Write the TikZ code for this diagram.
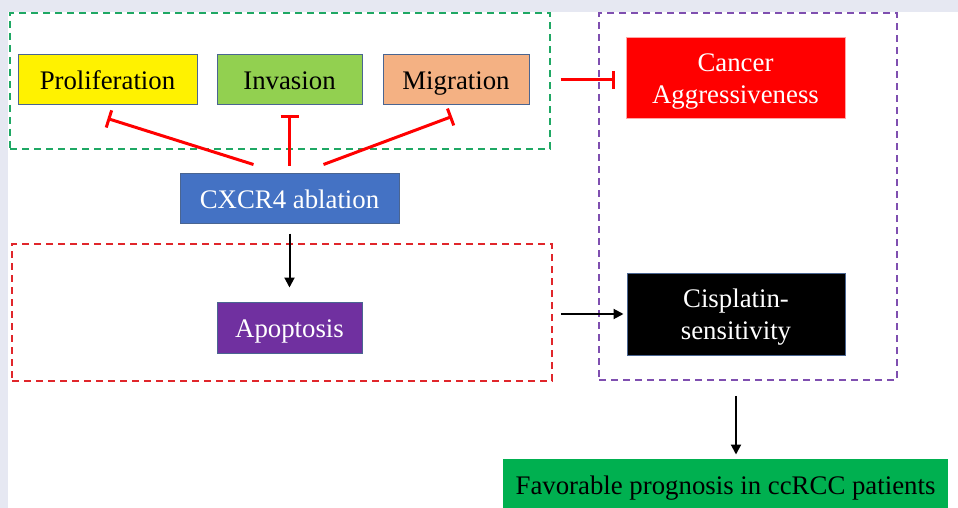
\documentclass[tikz,border=0pt]{standalone}
\usepackage{fontspec}
\setmainfont{Liberation Serif}
\usetikzlibrary{arrows.meta}

\definecolor{pagegray}{HTML}{E6E8F2}
\definecolor{boxedge}{HTML}{4A6591}
\definecolor{invgreen}{HTML}{92D050}
\definecolor{migorange}{HTML}{F4B183}
\definecolor{cxblue}{HTML}{4472C4}
\definecolor{apopurple}{HTML}{7030A0}
\definecolor{progreen}{HTML}{00B050}
\definecolor{grpgreen}{HTML}{1FA864}
\definecolor{grpred}{HTML}{E0262B}
\definecolor{grppurple}{HTML}{7F4FB0}

\tikzset{
  box/.style={draw=boxedge, line width=0.5pt, inner sep=0pt, align=center,
    text depth=2.2pt, font=\fontsize{13.4}{16}\selectfont},
  oneline/.style={text height=12.2pt},
  twoline/.style={text height=27.7pt},
  group/.style={line width=0.8pt, dash pattern=on 3.5pt off 2.5pt, inner sep=0pt},
  inhibit/.style={draw=red, line width=1.5pt, -{Bar[width=9pt]}},
  arr/.style={line width=1pt, -{Triangle[length=5pt,width=5pt]}}
}

\begin{document}
\begin{tikzpicture}[x=0.5pt,y=-0.5pt]
    % page
    \fill[pagegray] (0,0) rectangle (958,508);
    \fill[white] (8,12) rectangle (958,508);
    \useasboundingbox (0,0) rectangle (958,508);

    % dashed groups
    \node[group, draw=grpgreen, minimum width=270pt, minimum height=68pt] (traits) at (280,81) {};
    \node[group, draw=grppurple, minimum width=149pt, minimum height=183.5pt] (outcome) at (748,196.5) {};
    \node[group, draw=grpred, minimum width=270pt, minimum height=68.5pt] (death) at (282,312.5) {};

    % boxes
    \node[box, oneline, fill=yellow, minimum width=89.5pt, minimum height=25pt] (prolif) at (107.5,80) {Proliferation};
    \node[box, oneline, fill=invgreen, minimum width=72.5pt, minimum height=25pt] (inva) at (289.5,80) {Invasion};
    \node[box, oneline, fill=migorange, minimum width=73pt, minimum height=25pt] (migr) at (456,80) {Migration};
    \node[box, twoline, draw=red!35, fill=red, text=white, minimum width=109.5pt, minimum height=40.5pt] (cancer) at (735.5,78.5) {Cancer\\Aggressiveness};
    \node[box, oneline, fill=cxblue, text=white, minimum width=109.5pt, minimum height=25pt] (cxcr) at (289.5,198) {CXCR4 ablation};
    \node[box, oneline, fill=apopurple, text=white, minimum width=72.5pt, minimum height=25.5pt] (apop) at (289.5,327.5) {Apoptosis};
    \node[box, twoline, fill=black, text=white, minimum width=109pt, minimum height=41pt] (cispl) at (736,314) {Cisplatin-\\sensitivity};
    \node[box, oneline, draw=none, fill=progreen, minimum width=222.5pt, minimum height=25pt] (favor) at (725.5,484) {Favorable prognosis in ccRCC patients};

    % inhibition
    \draw[inhibit] ([xshift=-18pt,yshift=4pt]cxcr.north) -- ([yshift=-6.5pt]prolif.south);
    \draw[inhibit] ([yshift=3.5pt]cxcr.north) -- ([yshift=-5pt]inva.south);
    \draw[inhibit] ([xshift=17pt,yshift=4pt]cxcr.north) -- ([xshift=-2pt,yshift=-5.5pt]migr.south);
    \draw[inhibit, shorten <=15.5pt, shorten >=5.5pt] (migr.east) -- (migr.east -| cancer.west);

    % activation
    \draw[arr, shorten <=5pt, shorten >=7pt] (cxcr.south) -- (apop.north);
    \draw[arr, shorten <=4pt, shorten >=1.5pt] (cispl.west -| death.east) -- (cispl.west);
    \draw[arr, shorten <=7.5pt, shorten >=2pt] (cispl.south |- outcome.south) -- (cispl.south |- favor.north);
\end{tikzpicture}
\end{document}
